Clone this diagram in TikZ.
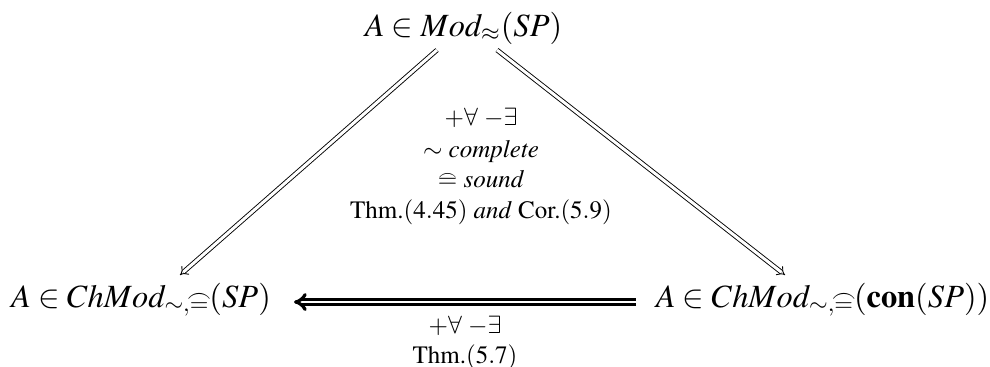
\documentclass[tikz,border=0pt]{standalone}
\usepackage[T1]{fontenc}
\usepackage{mathptmx}
\usepackage{amsmath}
\usetikzlibrary{arrows.meta}
\newcommand{\myhateq}{\mathrel{\mathpalette\myhateqaux\relax}}
\newcommand{\myhateqaux}[2]{\ooalign{$#1=$\cr\hidewidth\raisebox{0.62ex}{$\scriptstyle\frown$}\hidewidth\cr}}
\tikzset{
  mainlbl/.style={anchor=base, inner sep=0pt, font=\fontsize{16.2}{18}\selectfont},
  edgelbl/.style={anchor=base, inner sep=0pt, font=\fontsize{12.5}{14}\selectfont},
  thinimp/.style={double, double distance=1.5pt, line width=0.45pt, -{Implies}},
  boldimp/.style={double, double distance=1.2pt, line width=1.6pt, -{Implies[length=5pt, width=9pt, line width=0.5pt]}},
}
\begin{document}
\begin{tikzpicture}[x=1pt,y=1pt]
\useasboundingbox (0,0) rectangle (495,-183);
\node[mainlbl] (top) at (231.75,-18) {$A\in Mod_{\approx}(SP)$};
\node[mainlbl] (left) at (70.5,-153.5) {$A\in ChMod_{\sim,\myhateq}(SP)$};
\node[mainlbl] (right) at (411.25,-153.5) {$A\in ChMod_{\sim,\myhateq}(\mathbf{con}(SP))$};
\node[edgelbl] (m1) at (240.5,-62.5) {$+\forall\ {-}\exists$};
\node[edgelbl] (m2) at (240.5,-78.5) {$\sim$ \textit{complete}};
\node[edgelbl] (m3) at (240.5,-93.5) {$\myhateq$ \textit{sound}};
\node[edgelbl] (m4) at (240.5,-109) {Thm.$(4.45)$ \textit{and} Cor.$(5.9)$};
\node[edgelbl] (b1) at (232.5,-166.5) {$+\forall\ {-}\exists$};
\node[edgelbl] (b2) at (232.5,-181.5) {Thm.$(5.7)$};
\coordinate (tl) at (218.5,-25);
\coordinate (lt) at (90,-137.5);
\coordinate (tr) at (248.5,-25);
\coordinate (rt) at (392.5,-137.5);
\coordinate (rl) at (318,-151);
\coordinate (lr) at (147,-151);
\draw[thinimp] (tl) -- (lt);
\draw[thinimp] (tr) -- (rt);
\draw[boldimp] (rl) -- (lr);
\end{tikzpicture}
\end{document}
